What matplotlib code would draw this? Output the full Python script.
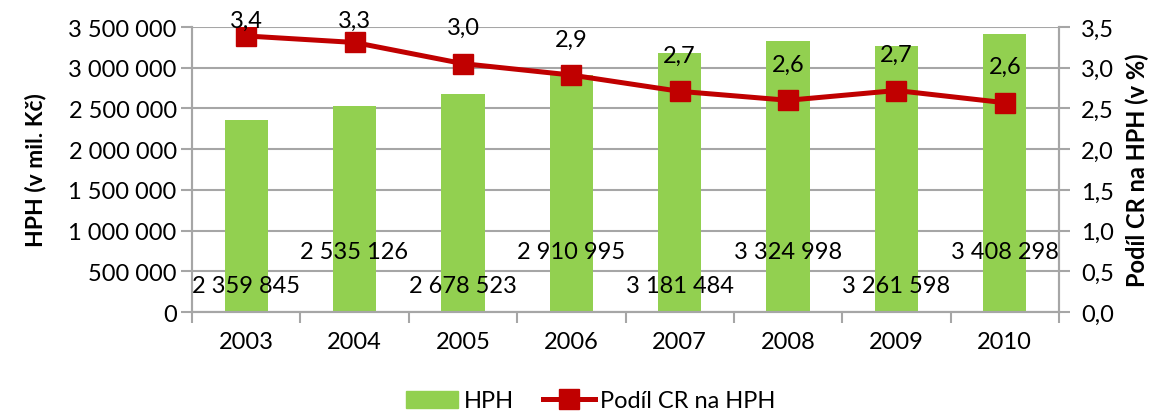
import matplotlib.pyplot as plt
import numpy as np
from matplotlib.patches import Patch
from matplotlib.lines import Line2D

years = ["2003", "2004", "2005", "2006", "2007", "2008", "2009", "2010"]
hph = [2359845, 2535126, 2678523, 2910995, 3181484, 3324998, 3261598, 3408298]
podil = [3.39, 3.31, 3.05, 2.91, 2.71, 2.60, 2.72, 2.57]
podil_labels = ["3,4", "3,3", "3,0", "2,9", "2,7", "2,6", "2,7", "2,6"]

plt.rcParams['font.family'] = ['Lato', 'DejaVu Sans']

def fmt_space(v):
    return f"{int(v):,}".replace(",", " ")

green = "#92d050"
red = "#c00000"
grid = "#a6a6a6"
fs = 17

fig = plt.figure(figsize=(11.59, 4.14), dpi=100)
ax = fig.add_axes([192 / 1159, 1 - 313 / 414, (1059 - 192) / 1159, (313 - 28) / 414])
ax2 = ax.twinx()

x = np.arange(len(years))
ax.bar(x, hph, width=0.4, color=green, zorder=2)
ax.set_xlim(-0.5, len(years) - 0.5)
ax.set_ylim(0, 3500000)
ticks_l = np.arange(0, 3500001, 500000)
ax.set_yticks(ticks_l)
ax.set_yticklabels([fmt_space(v) for v in ticks_l])
ax.yaxis.grid(True, color=grid, lw=1.5, zorder=0)
ax.set_axisbelow(True)

ax.set_xticks(x)
ax.set_xticklabels(years)
ax.set_xticks(np.arange(-0.5, len(years)), minor=True)
ax.tick_params(axis='x', which='major', length=0, pad=14, labelsize=fs)
ax.tick_params(axis='x', which='minor', length=8, width=1.5, color=grid)
ax.tick_params(axis='y', length=8, width=1.5, color=grid, labelsize=fs, pad=3)

for a in (ax, ax2):
    a.spines["top"].set_visible(False)
    for s in ["left", "right", "bottom"]:
        a.spines[s].set_color(grid)
        a.spines[s].set_linewidth(1.5)

ax.set_ylabel("HPH (v mil. Kč)", fontsize=16.5, fontweight='bold', labelpad=16)

# bar value labels, alternating heights
for i, v in enumerate(hph):
    yl = 330000 if i % 2 == 0 else 740000
    ax.text(i, yl, fmt_space(v), ha='center', va='center', fontsize=fs, zorder=5)

ax2.plot(x, podil, color=red, lw=3.6, marker='s', markersize=14.5, zorder=3)
ax2.set_ylim(0, 3.5)
ticks_r = np.arange(0, 3.51, 0.5)
ax2.set_yticks(ticks_r)
ax2.set_yticklabels([f"{v:.1f}".replace(".", ",") for v in ticks_r])
ax2.tick_params(axis='y', length=8, width=1.5, color=grid, labelsize=fs, pad=8)
ax2.set_ylabel("Podíl CR na HPH (v %)", fontsize=17, fontweight='bold', labelpad=8)

for i, (v, lab) in enumerate(zip(podil, podil_labels)):
    off = 26 if v < 3.2 else (11 if i == 0 else 16)
    ax2.annotate(lab, (i, v), xytext=(0, off), textcoords='offset points',
                 ha='center', va='center', fontsize=fs)

handles = [Patch(color=green, label="HPH"),
           Line2D([0], [0], color=red, lw=3.6, marker='s', markersize=14.5, label="Podíl CR na HPH")]
fig.legend(handles=handles, loc='center', ncol=2, frameon=False, fontsize=fs,
           bbox_to_anchor=(0.51, 1 - 402 / 414), borderpad=0, borderaxespad=0,
           handlelength=2.2, handletextpad=0.25, columnspacing=1.2)

fig.savefig("out.png", dpi=100)
